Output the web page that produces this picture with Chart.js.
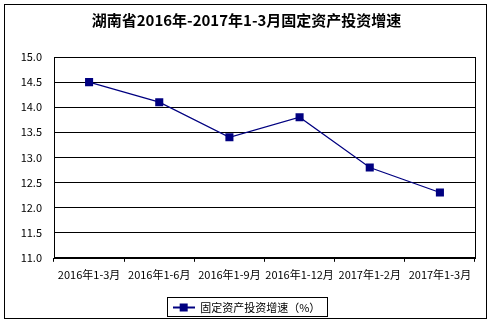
<!DOCTYPE html>
<html>
<head>
<meta charset="utf-8">
<script src="https://cdn.jsdelivr.net/npm/chart.js@4"></script>
<style>
  html, body { margin: 0; padding: 0; background: #fff; }
  #wrap { position: relative; width: 493px; height: 323px; }
  #frame { position: absolute; left: 4px; top: 4px; width: 481px; height: 313px; border: 1px solid #000; pointer-events: none; }
</style>
</head>
<body>
<div id="wrap">
  <canvas id="invest-chart" width="493" height="323"></canvas>
  <div id="frame"></div>
</div>
<script>
const periods = ["2016年1-3月", "2016年1-6月", "2016年1-9月", "2016年1-12月", "2017年1-2月", "2017年1-3月"];
const growth = [14.5, 14.1, 13.4, 13.8, 12.8, 12.3];
const seriesName = "固定资产投资增速（%）";
const yMin = 11.0;
const yMax = 15.0;
const yStep = 0.5;

const navy = "#000080";
const cjk = "'Noto Sans CJK SC', 'Noto Sans', sans-serif";

// legend swatch: short line with a square in the middle
function legendSwatch() {
  const c = document.createElement("canvas");
  c.width = 22; c.height = 10;
  const g = c.getContext("2d");
  g.fillStyle = navy;
  g.fillRect(0, 4, 22, 2);
  g.fillRect(7, 1, 8, 8);
  return c;
}

// box around plot area and around legend
const framePlugin = {
  id: "framePlugin",
  afterDraw(chart) {
    const ctx = chart.ctx;
    const a = chart.chartArea;
    ctx.save();
    ctx.strokeStyle = "#000";
    ctx.lineWidth = 1;
    ctx.strokeRect(Math.round(a.left) + 0.5, Math.round(a.top) + 0.5,
      Math.round(a.right - a.left), Math.round(a.bottom - a.top));
    const hb = chart.legend.legendHitBoxes[0];
    if (hb) {
      ctx.strokeRect(Math.round(hb.left) - 5.5, Math.round(hb.top) - 4.5,
        Math.round(hb.width) + 12, Math.round(hb.height) + 8);
    }
    ctx.restore();
  }
};

const ctx = document.getElementById("invest-chart").getContext("2d");
new Chart(ctx, {
  type: "line",
  data: {
    labels: periods,
    datasets: [{
      label: seriesName,
      data: growth,
      borderColor: navy,
      backgroundColor: navy,
      borderWidth: 1.2,
      pointStyle: "rect",
      pointRadius: 5.7,
      pointBackgroundColor: navy,
      pointBorderWidth: 0,
      tension: 0
    }]
  },
  options: {
    responsive: false,
    animation: false,
    devicePixelRatio: 1,
    layout: { padding: { left: 18, right: 18, top: 0, bottom: 0 } },
    plugins: {
      title: {
        display: true,
        text: "湖南省2016年-2017年1-3月固定资产投资增速",
        color: "#000",
        font: { family: cjk, size: 15, weight: "bold" },
        padding: { top: 11, bottom: 28 }
      },
      legend: {
        position: "bottom",
        labels: {
          color: "#000",
          font: { family: cjk, size: 11 },
          usePointStyle: true,
          pointStyleWidth: 22,
          boxHeight: 10,
          generateLabels(chart) {
            return [{
              text: seriesName,
              pointStyle: legendSwatch(),
              fillStyle: navy,
              strokeStyle: navy,
              lineWidth: 0,
              datasetIndex: 0,
              fontColor: "#000"
            }];
          },
          padding: 15
        }
      },
      tooltip: { enabled: false }
    },
    scales: {
      x: {
        offset: true,
        grid: { display: true, offset: true, drawOnChartArea: false, color: "#000", tickLength: 4 },
        border: { color: "#000" },
        ticks: { color: "#000", font: { family: cjk, size: 11 }, maxRotation: 0, autoSkip: false, padding: 6 }
      },
      y: {
        min: yMin,
        max: yMax,
        afterFit(scale) { scale.width = 36; },
        grid: { color: "#000", drawTicks: false },
        border: { color: "#000" },
        ticks: {
          stepSize: yStep,
          color: "#000",
          font: { family: cjk, size: 11 },
          padding: 12,
          callback: v => v.toFixed(1)
        }
      }
    }
  },
  plugins: [framePlugin]
});
</script>
</body>
</html>
